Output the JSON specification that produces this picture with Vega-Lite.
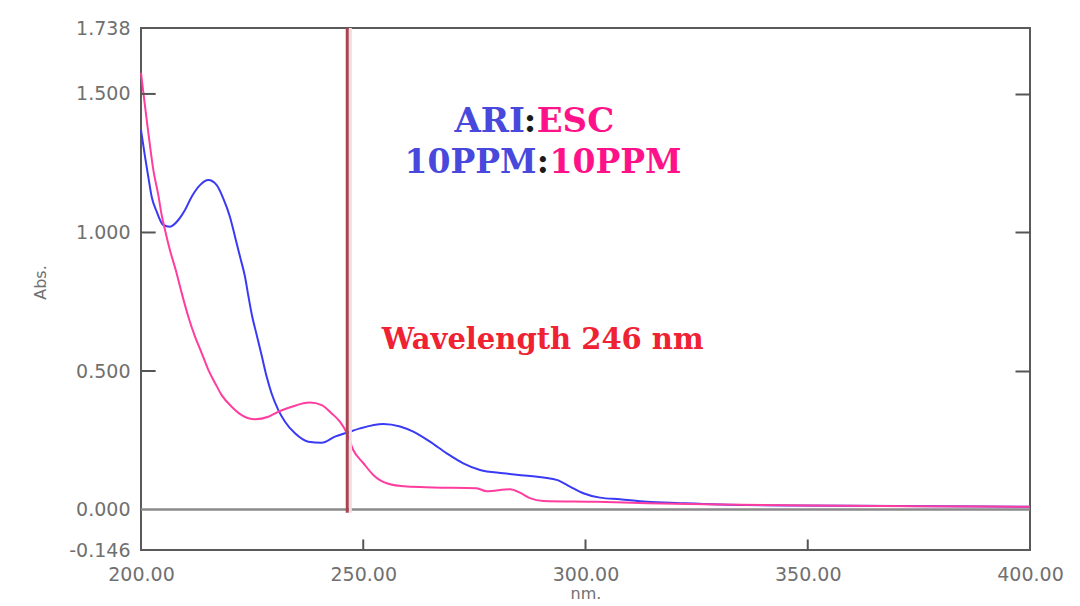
{
  "$schema": "https://vega.github.io/schema/vega-lite/v6.json",
  "width": 889,
  "height": 522,
  "autosize": "none",
  "padding": {"left": 141, "top": 28, "right": 50, "bottom": 56},
  "background": "white",
  "config": {
    "view": {"stroke": "#5a5a5a", "strokeWidth": 2},
    "axis": {
      "grid": false,
      "domain": false,
      "labelFont": "DejaVu Sans",
      "labelColor": "#707070",
      "labelFontSize": 19,
      "titleFont": "DejaVu Sans",
      "titleColor": "#707070",
      "titleFontWeight": "normal",
      "titleFontSize": 16,
      "tickColor": "#555555",
      "tickWidth": 2
    }
  },
  "datasets": {
    "ari": [
      {"nm": 200.0, "abs": 1.37},
      {"nm": 200.9, "abs": 1.274},
      {"nm": 201.64, "abs": 1.201},
      {"nm": 202.4, "abs": 1.129},
      {"nm": 203.53, "abs": 1.075},
      {"nm": 205.0, "abs": 1.027},
      {"nm": 206.5, "abs": 1.021},
      {"nm": 208.4, "abs": 1.045},
      {"nm": 209.9, "abs": 1.081},
      {"nm": 211.4, "abs": 1.129},
      {"nm": 213.27, "abs": 1.171},
      {"nm": 215.14, "abs": 1.189},
      {"nm": 217.03, "abs": 1.171},
      {"nm": 218.5, "abs": 1.123},
      {"nm": 220.0, "abs": 1.057},
      {"nm": 221.15, "abs": 0.985},
      {"nm": 222.27, "abs": 0.913},
      {"nm": 223.4, "abs": 0.84},
      {"nm": 224.14, "abs": 0.772},
      {"nm": 224.9, "abs": 0.706},
      {"nm": 226.03, "abs": 0.63},
      {"nm": 227.15, "abs": 0.556},
      {"nm": 228.28, "abs": 0.479},
      {"nm": 229.4, "abs": 0.418},
      {"nm": 230.9, "abs": 0.359},
      {"nm": 232.4, "abs": 0.317},
      {"nm": 234.65, "abs": 0.275},
      {"nm": 237.64, "abs": 0.245},
      {"nm": 240.65, "abs": 0.241},
      {"nm": 243.64, "abs": 0.263},
      {"nm": 246.28, "abs": 0.277},
      {"nm": 249.27, "abs": 0.293},
      {"nm": 254.5, "abs": 0.309},
      {"nm": 258.27, "abs": 0.3},
      {"nm": 261.26, "abs": 0.281},
      {"nm": 265.0, "abs": 0.245},
      {"nm": 268.77, "abs": 0.203},
      {"nm": 272.5, "abs": 0.167},
      {"nm": 276.27, "abs": 0.143},
      {"nm": 281.5, "abs": 0.131},
      {"nm": 287.5, "abs": 0.121},
      {"nm": 293.5, "abs": 0.107},
      {"nm": 296.5, "abs": 0.083},
      {"nm": 299.5, "abs": 0.059},
      {"nm": 303.26, "abs": 0.043},
      {"nm": 307.76, "abs": 0.037},
      {"nm": 313.77, "abs": 0.028},
      {"nm": 321.26, "abs": 0.023},
      {"nm": 336.26, "abs": 0.016},
      {"nm": 360, "abs": 0.014},
      {"nm": 380, "abs": 0.012},
      {"nm": 400, "abs": 0.01}
    ],
    "esc": [
      {"nm": 200.0, "abs": 1.576},
      {"nm": 200.7, "abs": 1.482},
      {"nm": 201.35, "abs": 1.398},
      {"nm": 202.0, "abs": 1.316},
      {"nm": 202.77, "abs": 1.226},
      {"nm": 203.9, "abs": 1.135},
      {"nm": 204.65, "abs": 1.063},
      {"nm": 205.4, "abs": 1.009},
      {"nm": 206.5, "abs": 0.937},
      {"nm": 208.0, "abs": 0.854},
      {"nm": 209.15, "abs": 0.782},
      {"nm": 210.65, "abs": 0.696},
      {"nm": 212.15, "abs": 0.624},
      {"nm": 213.65, "abs": 0.565},
      {"nm": 215.15, "abs": 0.504},
      {"nm": 216.65, "abs": 0.457},
      {"nm": 218.15, "abs": 0.413},
      {"nm": 220.4, "abs": 0.371},
      {"nm": 222.65, "abs": 0.341},
      {"nm": 225.65, "abs": 0.326},
      {"nm": 228.65, "abs": 0.335},
      {"nm": 230.9, "abs": 0.353},
      {"nm": 233.9, "abs": 0.371},
      {"nm": 238.0, "abs": 0.386},
      {"nm": 240.65, "abs": 0.377},
      {"nm": 242.9, "abs": 0.347},
      {"nm": 244.75, "abs": 0.317},
      {"nm": 246.3, "abs": 0.276},
      {"nm": 247.75, "abs": 0.215},
      {"nm": 250.0, "abs": 0.168},
      {"nm": 252.25, "abs": 0.125},
      {"nm": 255.3, "abs": 0.095},
      {"nm": 259.8, "abs": 0.083},
      {"nm": 265.75, "abs": 0.08},
      {"nm": 275.5, "abs": 0.077},
      {"nm": 277.75, "abs": 0.066},
      {"nm": 283.0, "abs": 0.073},
      {"nm": 285.25, "abs": 0.061},
      {"nm": 287.5, "abs": 0.041},
      {"nm": 290.5, "abs": 0.031},
      {"nm": 302.5, "abs": 0.028},
      {"nm": 313.8, "abs": 0.023},
      {"nm": 330, "abs": 0.018},
      {"nm": 350, "abs": 0.015},
      {"nm": 375, "abs": 0.012},
      {"nm": 400, "abs": 0.01}
    ]
  },
  "resolve": {"axis": {"x": "independent", "y": "independent"}},
  "layer": [
    {
      "data": {"values": [{"abs": 0}]},
      "mark": {"type": "rule", "color": "#8a8a8a", "strokeWidth": 2.5},
      "encoding": {
        "y": {
          "field": "abs", "type": "quantitative",
          "scale": {"domain": [-0.146, 1.738], "nice": false, "zero": false},
          "axis": null
        }
      }
    },
    {
      "data": {"name": "ari"},
      "mark": {"type": "line", "color": "#3a3af5", "strokeWidth": 2, "interpolate": "monotone"},
      "encoding": {
        "x": {
          "field": "nm", "type": "quantitative",
          "scale": {"domain": [200, 400], "nice": false, "zero": false},
          "axis": {"orient": "bottom", "values": [200, 250, 300, 350, 400], "format": ".2f", "ticks": false, "labelPadding": 15, "labelFlush": false, "labelDx": -6, "title": "nm.", "titlePadding": 1}
        },
        "y": {
          "field": "abs", "type": "quantitative",
          "axis": {"orient": "left", "values": [-0.146, 0, 0.5, 1, 1.5, 1.738], "format": ".3f", "labelExpr": "replace(datum.label, '−', '-')", "ticks": false, "labelPadding": 11, "labelFlush": false, "title": "Abs.", "titleX": -101, "titleY": 254, "titleBaseline": "middle"}
        }
      }
    },
    {
      "data": {"name": "esc"},
      "mark": {"type": "line", "color": "#ff3d9e", "strokeWidth": 2, "interpolate": "monotone"},
      "encoding": {
        "x": {"field": "nm", "type": "quantitative", "axis": null},
        "y": {
          "field": "abs", "type": "quantitative",
          "axis": {"orient": "right", "values": [0.5, 1, 1.5], "labels": false, "tickSize": -15, "title": null}
        }
      }
    },
    {
      "data": {"values": [{"abs": 0.5}, {"abs": 1.0}, {"abs": 1.5}]},
      "mark": {"type": "rule", "color": "#555555", "strokeWidth": 2},
      "encoding": {
        "y": {"field": "abs", "type": "quantitative", "axis": null},
        "x": {"datum": 200, "type": "quantitative", "axis": null},
        "x2": {"datum": 203.3}
      }
    },
    {
      "data": {"values": [{"nm": 250}, {"nm": 300}, {"nm": 350}]},
      "mark": {"type": "rule", "color": "#555555", "strokeWidth": 2},
      "encoding": {
        "x": {"field": "nm", "type": "quantitative", "axis": null},
        "y": {"datum": -0.146, "type": "quantitative", "axis": null},
        "y2": {"datum": -0.108}
      }
    },
    {
      "data": {"values": [{"nm": 247.1}]},
      "mark": {"type": "rule", "color": "#f3dde1", "strokeWidth": 3},
      "encoding": {
        "x": {"field": "nm", "type": "quantitative", "axis": null},
        "y": {"datum": 1.738, "type": "quantitative", "axis": null},
        "y2": {"datum": -0.012}
      }
    },
    {
      "data": {"values": [{"nm": 246.4}]},
      "mark": {"type": "rule", "color": "#a84450", "strokeWidth": 3},
      "encoding": {
        "x": {"field": "nm", "type": "quantitative", "axis": null},
        "y": {"datum": 1.738, "type": "quantitative", "axis": null},
        "y2": {"datum": -0.012}
      }
    },
    {
      "data": {"values": [{}]},
      "mark": {"type": "text", "text": "Wavelength 246 nm", "font": "DejaVu Serif", "fontWeight": "bold", "fontSize": 29, "color": "#ee2233", "align": "left", "baseline": "alphabetic"},
      "encoding": {
        "x": {"datum": 254.15, "type": "quantitative", "axis": null},
        "y": {"datum": 0.579, "type": "quantitative", "axis": null}
      }
    },
    {
      "data": {"values": [{}]},
      "mark": {"type": "text", "text": "ARI", "font": "DejaVu Serif", "fontWeight": "bold", "fontSize": 34, "color": "#4848dc", "align": "right", "baseline": "alphabetic"},
      "encoding": {
        "x": {"datum": 286.39, "type": "quantitative", "axis": null},
        "y": {"datum": 1.363, "type": "quantitative", "axis": null}
      }
    },
    {
      "data": {"values": [{}]},
      "mark": {"type": "text", "text": ":", "font": "DejaVu Serif", "fontWeight": "bold", "fontSize": 34, "color": "#1a1a1a", "align": "center", "baseline": "alphabetic"},
      "encoding": {
        "x": {"datum": 287.51, "type": "quantitative", "axis": null},
        "y": {"datum": 1.363, "type": "quantitative", "axis": null}
      }
    },
    {
      "data": {"values": [{}]},
      "mark": {"type": "text", "text": "ESC", "font": "DejaVu Serif", "fontWeight": "bold", "fontSize": 34, "color": "#ff1289", "align": "left", "baseline": "alphabetic"},
      "encoding": {
        "x": {"datum": 289.02, "type": "quantitative", "axis": null},
        "y": {"datum": 1.363, "type": "quantitative", "axis": null}
      }
    },
    {
      "data": {"values": [{}]},
      "mark": {"type": "text", "text": "10PPM", "font": "DejaVu Serif", "fontWeight": "bold", "fontSize": 33, "color": "#4848dc", "align": "right", "baseline": "alphabetic"},
      "encoding": {
        "x": {"datum": 289.0, "type": "quantitative", "axis": null},
        "y": {"datum": 1.215, "type": "quantitative", "axis": null}
      }
    },
    {
      "data": {"values": [{}]},
      "mark": {"type": "text", "text": ":", "font": "DejaVu Serif", "fontWeight": "bold", "fontSize": 33, "color": "#1a1a1a", "align": "center", "baseline": "alphabetic"},
      "encoding": {
        "x": {"datum": 290.4, "type": "quantitative", "axis": null},
        "y": {"datum": 1.215, "type": "quantitative", "axis": null}
      }
    },
    {
      "data": {"values": [{}]},
      "mark": {"type": "text", "text": "10PPM", "font": "DejaVu Serif", "fontWeight": "bold", "fontSize": 33, "color": "#ff1289", "align": "left", "baseline": "alphabetic"},
      "encoding": {
        "x": {"datum": 291.9, "type": "quantitative", "axis": null},
        "y": {"datum": 1.215, "type": "quantitative", "axis": null}
      }
    }
  ]
}
